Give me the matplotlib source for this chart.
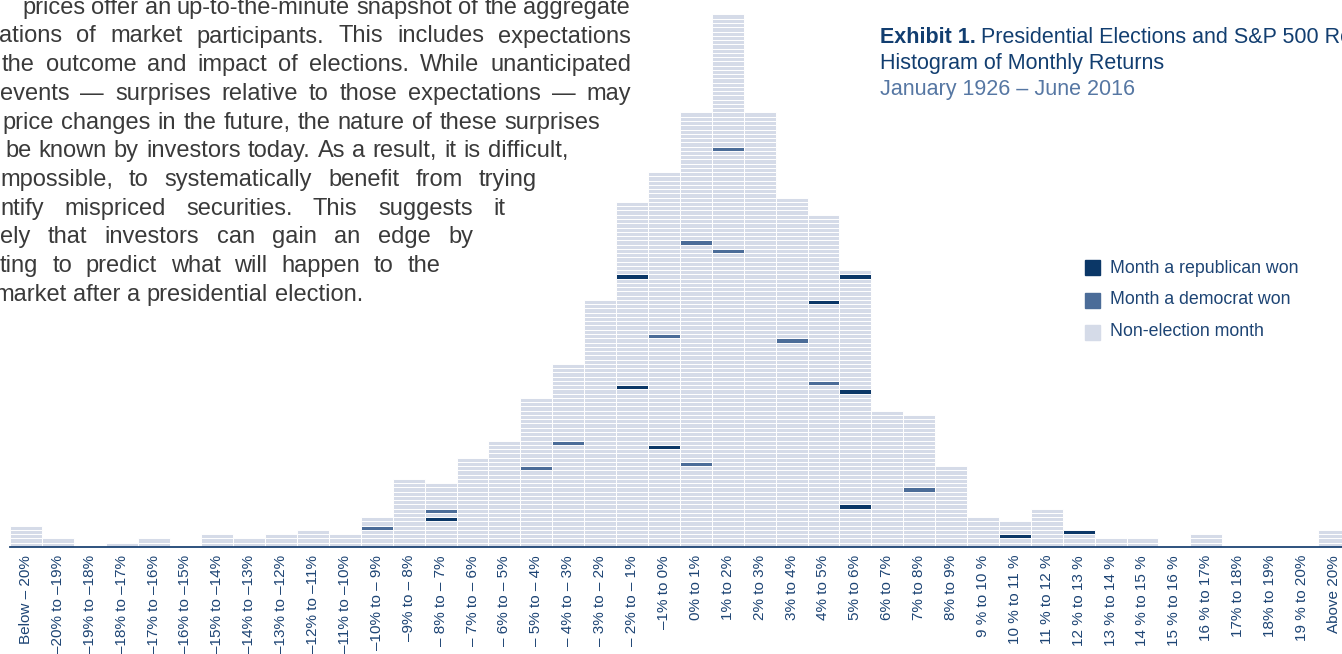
import matplotlib
matplotlib.use("Agg")
import matplotlib.pyplot as plt
from matplotlib.patches import Rectangle

# bins of monthly return
labels = ["Below – 20%", "–20% to –19%", "–19% to –18%", "–18% to –17%", "–17% to –16%",
          "–16% to –15%", "–15% to –14%", "–14% to –13%", "–13% to –12%", "–12% to –11%",
          "–11% to –10%", "–10% to – 9%", "–9% to – 8%", "– 8% to – 7%", "– 7% to – 6%",
          "– 6% to – 5%", "– 5% to – 4%", "– 4% to – 3%", "– 3% to – 2%", "– 2% to – 1%",
          "–1% to 0%", "0% to 1%", "1% to 2%", "2% to 3%", "3% to 4%", "4% to 5%",
          "5% to 6%", "6% to 7%", "7% to 8%", "8% to 9%", "9 % to 10 %", "10 % to 11 %",
          "11 % to 12 %", "12 % to 13 %", "13 % to 14 %", "14 % to 15 %", "15 % to 16 %",
          "16 % to 17%", "17% to 18%", "18% to 19%", "19 % to 20%", "Above 20%"]

# number of months in each bin
counts = [5, 2, 0, 1, 2, 0, 3, 2, 3, 4, 3, 7, 16, 15, 21, 25, 35, 43, 58, 81, 88,
          102, 125, 102, 82, 78, 65, 32, 31, 19, 7, 6, 9, 4, 2, 2, 0, 3, 0, 0, 0, 4]

# election months: (bin index, place in the stack)
republican_months = [(13, 6), (19, 37), (19, 63), (20, 23), (25, 57), (26, 9),
                     (26, 36), (26, 63), (31, 2), (33, 3)]
democrat_months = [(11, 4), (13, 8), (16, 18), (17, 24), (20, 49), (21, 19),
                   (21, 71), (22, 69), (22, 93), (24, 48), (25, 38), (28, 13)]

legend_labels = ["Month a republican won", "Month a democrat won", "Non-election month"]

body_lines = [
    "prices offer an up-to-the-minute snapshot of the aggregate",
    "ations of market participants. This includes expectations",
    "the outcome and impact of elections. While unanticipated",
    "events — surprises relative to those expectations — may",
    "price changes in the future, the nature of these surprises",
    "be known by investors today. As a result, it is difficult,",
    "mpossible, to systematically benefit from trying",
    "ntify mispriced securities. This suggests it",
    "ely that investors can gain an edge by",
    "ting to predict what will happen to the",
    "market after a presidential election.",
]

REP = "#0b3767"
DEM = "#4b6c98"
NON = "#d5dbe8"
NAVY = "#1d4474"

W, H = 1342, 654
fig = plt.figure(figsize=(W / 100, H / 100), dpi=100)
plt.rcParams['font.family'] = ['Liberation Sans', 'DejaVu Sans']

unit = 4.26          # pixels per month
base_px = 547        # baseline from top
ax = fig.add_axes([0, (H - base_px) / H, 1, base_px / H])
ax.set_xlim(-0.5 - 10 / 31.9, -0.5 + (W - 10) / 31.9)
ax.set_ylim(0, base_px / unit)
ax.axis('off')

rep = set(republican_months)
dem = set(democrat_months)
xs, ys, cols = [], [], []
for i, n in enumerate(counts):
    for k in range(n):
        xs.append(i)
        ys.append(k)
        if (i, k) in rep:
            cols.append(REP)
        elif (i, k) in dem:
            cols.append(DEM)
        else:
            cols.append(NON)
ax.bar(xs, 1, bottom=ys, width=1, color=cols, edgecolor='white', linewidth=0.7)
ax.plot([-0.5, len(counts)], [0, 0], color=NAVY, lw=1.3, clip_on=False)

for i, lab in enumerate(labels):
    ax.text(i, -8 / unit, lab, rotation=90, ha='center', va='top', fontsize=11, color=NAVY)

renderer = fig.canvas.get_renderer()


def place_words(line, y, x0, x1, justify, **kw):
    words = line.split()
    texts = [fig.text(0, 1 - y / H, w, va='baseline', **kw) for w in words]
    widths = [t.get_window_extent(renderer).width for t in texts]
    if justify and len(words) > 1:
        gap = (x1 - x0 - sum(widths)) / (len(words) - 1)
    else:
        sp = fig.text(0, 0, "a a", **kw)
        one = fig.text(0, 0, "aa", **kw)
        gap = sp.get_window_extent(renderer).width - one.get_window_extent(renderer).width
        sp.remove()
        one.remove()
    x = x0
    for t, w in zip(texts, widths):
        t.set_x(x / W)
        x += w + gap


# body text around the chart
body_left = [22, -1, 2, 0, 2, 5, 0, 0, 0, 0, -6]
body_right = [630, 631, 631, 631, 600, 568, 537, 505, 473, 440, None]
for j, line in enumerate(body_lines):
    y = 6.8 + 28.7 * j + 7
    place_words(line, y, body_left[j], body_right[j], body_right[j] is not None,
                fontsize=17, color='#3a3a3a')

# title block
t1 = fig.text(880 / W, 1 - 43 / H, "Exhibit 1.", fontsize=15.5, fontweight='bold',
              color='#123e70', va='baseline')
wb = t1.get_window_extent(renderer).width
fig.text((880 + wb + 5) / W, 1 - 43 / H, "Presidential Elections and S&P 500 Returns",
         fontsize=15.5, color='#123e70', va='baseline')
fig.text(880 / W, 1 - 69 / H, "Histogram of Monthly Returns", fontsize=15.5,
         color='#123e70', va='baseline')
fig.text(880 / W, 1 - 95 / H, "January 1926 – June 2016", fontsize=15.5,
         color='#5677a3', va='baseline')

# legend
for j, (lab, c) in enumerate(zip(legend_labels, [REP, DEM, NON])):
    yc = 268 + 32 * j
    fig.add_artist(Rectangle((1085 / W, 1 - (yc + 7.5) / H), 15 / W, 15 / H,
                             transform=fig.transFigure, color=c))
    fig.text(1110 / W, 1 - yc / H, lab, fontsize=12.8, color=NAVY, va='center')

fig.savefig("out.png", dpi=100)
